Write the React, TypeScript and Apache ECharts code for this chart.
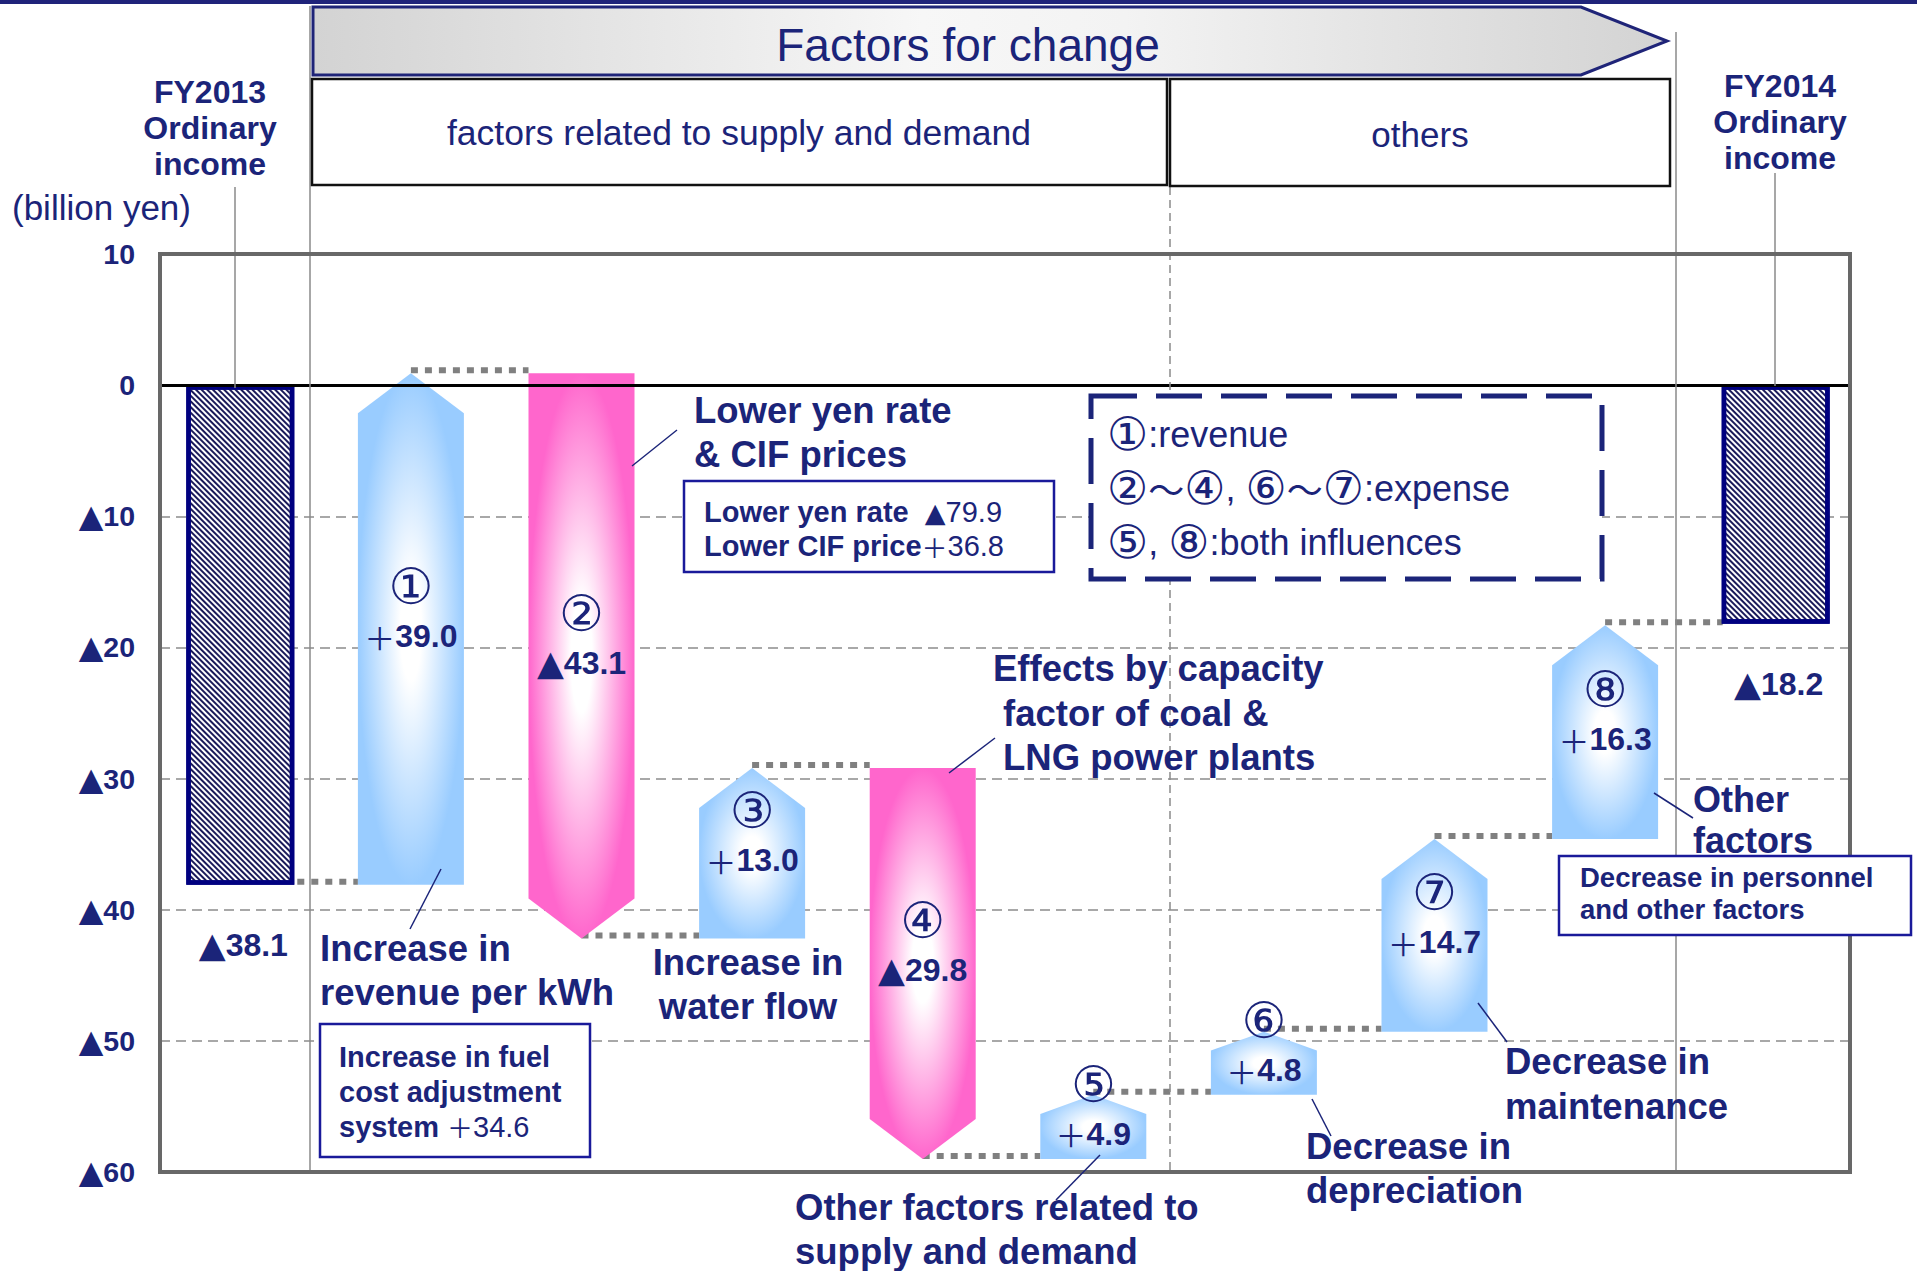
import React, { useEffect, useRef } from "react";
import * as echarts from "echarts";

// ---------- data ----------
const categories = ["FY2013", "①", "②", "③", "④", "⑤", "⑥", "⑦", "⑧", "FY2014"];
const circledNumbers = ["①", "②", "③", "④", "⑤", "⑥", "⑦", "⑧"];
const openingIncome = -38.1; // FY2013 ordinary income
const closingIncome = -18.2; // FY2014 ordinary income
const changeValues = [39.0, -43.1, 13.0, -29.8, 4.9, 4.8, 14.7, 16.3];
const yMin = -60;
const yMax = 10;
const yInterval = 10;

// ---------- styles ----------
const NAVY = "#1b2479";
const BAR_NAVY = "#000080";
const SANS = '"Liberation Sans", Arial, "Noto Sans CJK JP", sans-serif';
const CJK = '"Noto Sans CJK JP", "Liberation Sans", sans-serif';
const TRI = '"DejaVu Sans", "Noto Sans CJK JP", sans-serif';
const CIRC = '"DejaVu Sans", "Noto Sans CJK JP", sans-serif';
const BAR_W = 106;
const BOLD_ANN = 36.5;

// rich-text helpers: ▲ drawn in a font with a large triangle
const signedRich = (v: number) =>
  v < 0 ? "{t|▲}{n|" + Math.abs(v).toFixed(1) + "}" : "{p|＋}{n|" + v.toFixed(1) + "}";
const tickRich = (v: number) => (v < 0 ? "{t|▲}{n|" + -v + "}" : "{n|" + v + "}");

const valueRich = {
  t: { fontFamily: TRI, fontSize: 35, fill: NAVY, color: NAVY },
  p: { fontFamily: CJK, fontSize: 31, fill: NAVY, color: NAVY },
  n: { fontFamily: SANS, fontSize: 32, fontWeight: "bold", fill: NAVY, color: NAVY },
};

// waterfall rows built from the values
const arrowRows: number[][] = [];
const connectorRows: number[][] = [];
{
  let level = openingIncome;
  connectorRows.push([0, level, 1]);
  changeValues.forEach((d, i) => {
    const start = level;
    const end = Math.round((level + d) * 10) / 10;
    arrowRows.push([i + 1, start, end, d]);
    level = end;
    connectorRows.push([i + 1, level, 0]);
  });
}
const totalBarData = categories.map((_, i) =>
  i === 0 ? openingIncome : i === categories.length - 1 ? closingIncome : "-"
);
const totalLabelRows = [
  [0, openingIncome],
  [categories.length - 1, closingIncome],
];

function txt(x: number, y: number, text: string, size: number, opts: any = {}) {
  return {
    type: "text",
    x,
    y,
    z: opts.z ?? 20,
    style: {
      text,
      fill: opts.fill ?? NAVY,
      fontSize: size,
      fontWeight: opts.weight ?? "bold",
      fontFamily: opts.family ?? SANS,
      lineHeight: opts.lh,
      align: opts.align ?? "left",
      textAlign: opts.align ?? "left",
      verticalAlign: opts.va ?? "middle",
      textVerticalAlign: opts.va ?? "middle",
      rich: opts.rich,
    },
  };
}
function ln(x1: number, y1: number, x2: number, y2: number, opts: any = {}) {
  return {
    type: "line",
    z: opts.z ?? 15,
    shape: { x1, y1, x2, y2 },
    style: {
      stroke: opts.stroke ?? NAVY,
      lineWidth: opts.lw ?? 1.5,
      lineDash: opts.dash,
    },
  };
}
function box(x: number, y: number, w: number, h: number, opts: any = {}) {
  return {
    type: "rect",
    z: opts.z ?? 12,
    shape: { x, y, width: w, height: h },
    style: {
      fill: opts.fill ?? "#ffffff",
      stroke: opts.stroke ?? "#1a1a9a",
      lineWidth: opts.lw ?? 2.5,
      lineDash: opts.dash,
    },
  };
}

export default function App() {
  const ref = useRef<HTMLDivElement>(null);
  useEffect(() => {
    if (!ref.current) return;
    const chart = echarts.init(ref.current, null, {
      renderer: "svg",
      width: 1917,
      height: 1271,
    });

    const richBox = {
      b: { fontSize: 29, fontWeight: "bold", fontFamily: SANS, fill: NAVY, lineHeight: 34 },
      r: { fontSize: 29, fontWeight: "normal", fontFamily: SANS, fill: NAVY, lineHeight: 34 },
      t: { fontSize: 27, fontWeight: "normal", fontFamily: TRI, fill: NAVY, lineHeight: 34 },
      p: { fontSize: 26, fontWeight: "normal", fontFamily: CJK, fill: NAVY, lineHeight: 34 },
    };
    const richLegend = {
      c: { fontSize: 46, fontFamily: CIRC, fill: NAVY, lineHeight: 46 },
      w: { fontSize: 36, fontFamily: CJK, fill: NAVY, lineHeight: 46 },
      t: { fontSize: 36, fontFamily: SANS, fill: NAVY, lineHeight: 46 },
    };

    const graphics: any[] = [
      // top rule
      { type: "rect", z: 5, shape: { x: 0, y: 0, width: 1917, height: 4 }, style: { fill: "#1f237a" } },
      // banner arrow
      {
        type: "polygon",
        z: 5,
        shape: { points: [[313, 7], [1581, 7], [1667, 41], [1581, 75], [313, 75]] },
        style: {
          fill: new echarts.graphic.LinearGradient(0, 0, 1, 0, [
            { offset: 0, color: "#d3d3d3" },
            { offset: 0.45, color: "#f7f7f7" },
            { offset: 0.6, color: "#f3f3f3" },
            { offset: 1, color: "#d3d3d3" },
          ]),
          stroke: "#1f2478",
          lineWidth: 3,
        },
      },
      txt(968, 45, "Factors for change", 46, { weight: "normal", align: "center" }),
      box(312, 79, 855, 106, { stroke: "#111", lw: 2.5 }),
      txt(739, 133, "factors related to supply and demand", 35.5, { weight: "normal", align: "center" }),
      box(1170, 79, 500, 107, { stroke: "#111", lw: 2.5 }),
      txt(1420, 134, "others", 35, { weight: "normal", align: "center" }),
      // income labels
      txt(210, 74, "FY2013\nOrdinary\nincome", 32, { align: "center", va: "top", lh: 36 }),
      txt(1780, 68, "FY2014\nOrdinary\nincome", 32, { align: "center", va: "top", lh: 36 }),
      txt(12, 207, "(billion yen)", 35, { weight: "normal" }),
      // plot frame
      {
        type: "rect",
        z: 9,
        shape: { x: 160, y: 254, width: 1690, height: 918 },
        style: { fill: "none", stroke: "#686868", lineWidth: 4 },
      },
      // vertical separators
      ln(310, 6, 310, 1172, { stroke: "#8a8a8a", lw: 1.5, z: 8 }),
      ln(1676, 32, 1676, 1172, { stroke: "#8a8a8a", lw: 1.5, z: 8 }),
      ln(1170, 187, 1170, 1172, { stroke: "#8a8a8a", lw: 1.5, dash: [8, 5], z: 8 }),
      ln(235, 187, 235, 388, { stroke: "#8a8a8a", lw: 1.5, z: 8 }),
      ln(1775, 173, 1775, 386, { stroke: "#8a8a8a", lw: 1.5, z: 8 }),
      // legend box
      box(1091, 396, 511, 183, { stroke: NAVY, lw: 5, dash: [46, 19] }),
      txt(1107, 434, "{c|①}{t|:revenue}", 36, { weight: "normal", rich: richLegend }),
      txt(1107, 488, "{c|②}{w|～}{c|④}{t|, }{c|⑥}{w|～}{c|⑦}{t|:expense}", 36, { weight: "normal", rich: richLegend }),
      txt(1107, 542, "{c|⑤}{t|, }{c|⑧}{t|:both influences}", 36, { weight: "normal", rich: richLegend }),
      // Lower yen rate
      txt(694, 388, "Lower yen rate\n& CIF prices", BOLD_ANN, { va: "top", lh: 44 }),
      ln(632, 466, 677, 430),
      box(684, 481, 370, 91),
      txt(704, 495, "{b|Lower yen rate}  {t|▲}{r|79.9}\n{b|Lower CIF price}{p|＋}{r|36.8}", 29, {
        va: "top",
        lh: 34,
        rich: richBox,
      }),
      // Effects by capacity
      txt(993, 668, "Effects by capacity", BOLD_ANN),
      txt(1003, 713, "factor of coal &", BOLD_ANN),
      txt(1003, 757, "LNG power plants", BOLD_ANN),
      ln(949, 773, 995, 738),
      // Increase in revenue per kWh
      txt(320, 926, "Increase in\nrevenue per kWh", BOLD_ANN, { va: "top", lh: 44 }),
      ln(441, 869, 410, 929),
      box(320, 1024, 270, 133),
      txt(339, 1039, "{b|Increase in fuel}\n{b|cost adjustment}\n{b|system }{p|＋}{r|34.6}", 29, {
        va: "top",
        lh: 35,
        rich: {
          b: { ...richBox.b, lineHeight: 35 },
          r: { ...richBox.r, lineHeight: 35 },
          p: { ...richBox.p, lineHeight: 35 },
        },
      }),
      // water flow
      txt(748, 940, "Increase in\nwater flow", BOLD_ANN, { va: "top", lh: 44, align: "center" }),
      // other supply & demand
      txt(795, 1185, "Other factors related to\nsupply and demand", BOLD_ANN, { va: "top", lh: 44 }),
      ln(1100, 1155, 1056, 1200),
      // depreciation
      txt(1306, 1124, "Decrease in\ndepreciation", BOLD_ANN, { va: "top", lh: 44 }),
      ln(1312, 1099, 1331, 1136),
      // maintenance
      txt(1505, 1039, "Decrease in\nmaintenance", BOLD_ANN, { va: "top", lh: 45 }),
      ln(1478, 1003, 1507, 1042),
      // other factors
      txt(1693, 779, "Other\nfactors", 36, { va: "top", lh: 41 }),
      ln(1654, 793, 1693, 818),
      box(1559, 856, 352, 79),
      txt(1580, 861, "Decrease in personnel\nand other factors", 27.5, { va: "top", lh: 32 }),
    ];

    const option: any = {
      animation: false,
      backgroundColor: "#ffffff",
      grid: [
        { left: 160, top: 254, width: 1690, height: 918, show: false },
        { left: 155, top: 254, width: 1706, height: 918 },
      ],
      xAxis: [
        { type: "category", gridIndex: 0, data: categories, show: false },
        { type: "category", gridIndex: 1, data: categories, show: false, boundaryGap: true },
      ],
      yAxis: [
        {
          type: "value",
          gridIndex: 0,
          min: yMin,
          max: yMax,
          interval: yInterval,
          axisLine: { show: false },
          axisTick: { show: false },
          axisLabel: {
            formatter: (v: number) => tickRich(v),
            color: NAVY,
            margin: 25,
            rich: {
              t: { fontFamily: TRI, fontSize: 32, color: NAVY },
              n: { fontFamily: SANS, fontSize: 28.5, fontWeight: "bold", color: NAVY },
            },
          },
          splitLine: {
            show: true,
            lineStyle: { color: "#a8a8a8", width: 2, type: [10, 6] },
          },
        },
        {
          type: "value",
          gridIndex: 1,
          min: yMin,
          max: yMax,
          interval: yInterval,
          show: false,
          splitLine: { show: false },
        },
      ],
      graphic: graphics,
      series: [
        {
          name: "zero",
          type: "line",
          xAxisIndex: 0,
          yAxisIndex: 0,
          data: [],
          markLine: {
            silent: true,
            symbol: "none",
            label: { show: false },
            lineStyle: { color: "#000000", width: 3, type: "solid" },
            data: [{ yAxis: 0 }],
          },
        },
        {
          name: "Ordinary income",
          type: "bar",
          xAxisIndex: 1,
          yAxisIndex: 1,
          barWidth: 108,
          z: 3,
          data: totalBarData,
          itemStyle: {
            color: "#ffffff",
            borderColor: BAR_NAVY,
            borderWidth: 4.5,
            decal: {
              symbol: "rect",
              symbolSize: 1,
              color: "#1a1a5a",
              backgroundColor: "#ffffff",
              dashArrayX: [1, 0],
              dashArrayY: [2, 2],
              rotation: Math.PI / 4,
            },
          },
        },
        {
          name: "connectors",
          type: "custom",
          xAxisIndex: 1,
          yAxisIndex: 1,
          z: 2,
          data: connectorRows,
          renderItem: (params: any, api: any) => {
            const i = api.value(0);
            const lvl = api.value(1);
            const fromBar = api.value(2);
            const p = api.coord([i, lvl]);
            const pn = api.coord([i + 1, lvl]);
            const x1 = fromBar ? p[0] + BAR_W / 2 + 4 : p[0];
            const x2 = pn[0] - BAR_W / 2;
            return {
              type: "line",
              shape: { x1, y1: p[1] - 3, x2, y2: p[1] - 3 },
              style: { stroke: "#808080", lineWidth: 6, lineDash: [7, 7] },
            };
          },
        },
        {
          name: "changes",
          type: "custom",
          xAxisIndex: 1,
          yAxisIndex: 1,
          z: 4,
          data: arrowRows,
          renderItem: (params: any, api: any) => {
            const idx = api.value(0);
            const s = api.value(1);
            const e = api.value(2);
            const d = api.value(3);
            const ps = api.coord([idx, s]);
            const pe = api.coord([idx, e]);
            const cx = ps[0];
            const top = Math.min(ps[1], pe[1]);
            const bottom = Math.max(ps[1], pe[1]);
            const h = bottom - top;
            const head = Math.min(40, h * 0.3);
            const l = cx - BAR_W / 2;
            const r = cx + BAR_W / 2;
            const up = d > 0;
            const points = up
              ? [[l, bottom], [l, top + head], [cx, top], [r, top + head], [r, bottom]]
              : [[l, top], [r, top], [r, bottom - head], [cx, bottom], [l, bottom - head]];
            const edge = up ? "#99ccff" : "#ff66cc";
            const valueY = (top + bottom) / 2 + 7;
            return {
              type: "group",
              children: [
                {
                  type: "polygon",
                  shape: { points },
                  style: {
                    fill: new echarts.graphic.RadialGradient(0.5, 0.5, 0.5, [
                      { offset: 0, color: "#ffffff" },
                      { offset: 0.2, color: "#ffffff" },
                      { offset: 1, color: edge },
                    ]),
                  },
                },
                {
                  type: "text",
                  x: cx,
                  y: valueY - 49,
                  style: {
                    text: circledNumbers[idx - 1],
                    fill: NAVY,
                    fontSize: 50,
                    fontFamily: CIRC,
                    align: "center",
                    verticalAlign: "middle",
                    textAlign: "center",
                    textVerticalAlign: "middle",
                  },
                },
                {
                  type: "text",
                  x: cx,
                  y: valueY,
                  style: {
                    text: signedRich(d),
                    rich: valueRich,
                    fill: NAVY,
                    fontSize: 32,
                    fontWeight: "bold",
                    fontFamily: SANS,
                    align: "center",
                    verticalAlign: "middle",
                    textAlign: "center",
                    textVerticalAlign: "middle",
                  },
                },
              ],
            };
          },
        },
        {
          name: "income labels",
          type: "custom",
          xAxisIndex: 1,
          yAxisIndex: 1,
          z: 5,
          data: totalLabelRows,
          renderItem: (params: any, api: any) => {
            const p = api.coord([api.value(0), api.value(1)]);
            return {
              type: "text",
              x: p[0] + 3,
              y: p[1] + 60,
              style: {
                text: signedRich(api.value(1)),
                rich: valueRich,
                fill: NAVY,
                fontSize: 32,
                fontWeight: "bold",
                fontFamily: SANS,
                align: "center",
                verticalAlign: "middle",
                textAlign: "center",
                textVerticalAlign: "middle",
              },
            };
          },
        },
      ],
    };

    chart.setOption(option);
    return () => chart.dispose();
  }, []);

  return (
    <div
      ref={ref}
      style={{ position: "absolute", left: 0, top: 0, width: 1917, height: 1271 }}
    />
  );
}
